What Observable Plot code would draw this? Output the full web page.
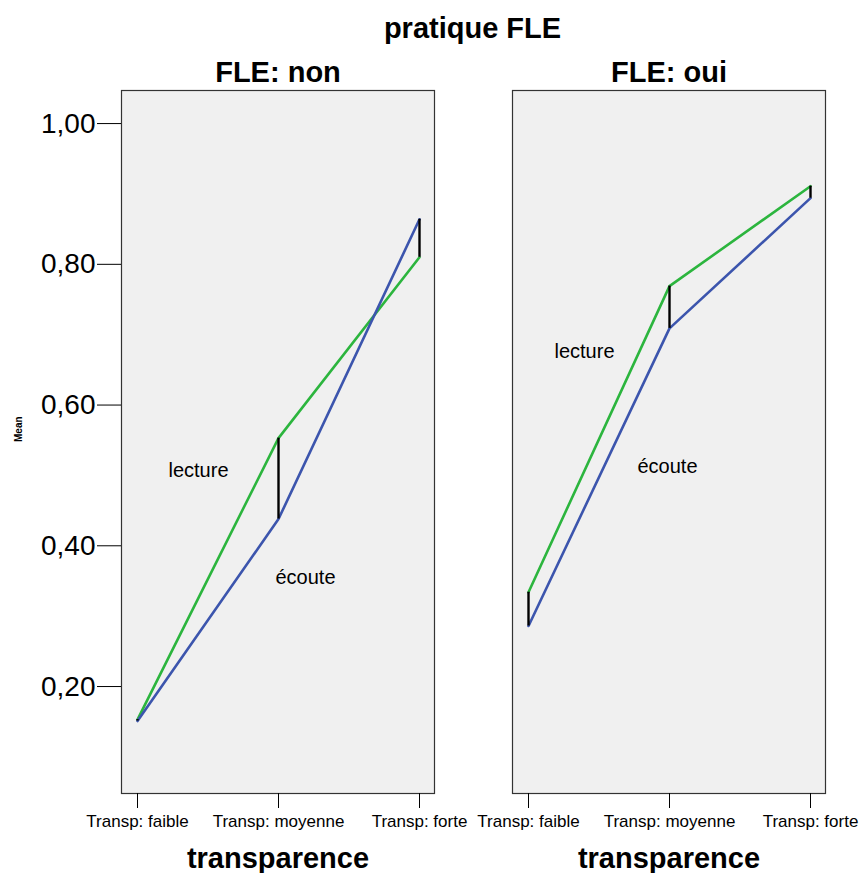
<!DOCTYPE html>
<html>
<head>
<meta charset="utf-8">
<script src="https://cdn.jsdelivr.net/npm/d3@7"></script>
<script src="https://cdn.jsdelivr.net/npm/@observablehq/plot@0.6"></script>
<style>
  body { margin: 0; background: #fff; font-family: "Liberation Sans", Arial, sans-serif; }
  #wrap { position: relative; width: 864px; height: 873px; }
  #title { position: absolute; left: 120px; width: 705px; top: 11px; text-align: center;
           font: bold 29px "Liberation Sans", Arial, sans-serif; color: #000; line-height: 34px; }
</style>
</head>
<body>
<div id="wrap"><div id="title">pratique FLE</div></div>
<script>
// Categories
const groups = ["FLE: non", "FLE: oui"];
const levels = ["Transp: faible", "Transp: moyenne", "Transp: forte"];
// Series values (means), one array per group and measure
const lectureNon = [0.153, 0.553, 0.810];
const ecouteNon  = [0.151, 0.438, 0.864];
const lectureOui = [0.334, 0.769, 0.911];
const ecouteOui  = [0.286, 0.709, 0.894];
// Y tick values
const yTicks = [0.2, 0.4, 0.6, 0.8, 1.0];
// Series label annotations: group, text, anchor level, value, horizontal nudge
const seriesLabels = [
  {group: "FLE: non", text: "lecture", level: "Transp: faible",  value: 0.507, dx: 61},
  {group: "FLE: non", text: "écoute",  level: "Transp: moyenne", value: 0.355, dx: 27},
  {group: "FLE: oui", text: "lecture", level: "Transp: faible",  value: 0.676, dx: 56},
  {group: "FLE: oui", text: "écoute",  level: "Transp: moyenne", value: 0.512, dx: -2}
];

const series = [
  {name: "lecture", group: "FLE: non", values: lectureNon},
  {name: "écoute",  group: "FLE: non", values: ecouteNon},
  {name: "lecture", group: "FLE: oui", values: lectureOui},
  {name: "écoute",  group: "FLE: oui", values: ecouteOui}
];
const rows = series.flatMap(s => s.values.map((v, i) => ({group: s.group, series: s.name, level: levels[i], value: v})));
const diffs = [
  ...levels.map((l, i) => ({group: "FLE: non", level: l, a: lectureNon[i], b: ecouteNon[i]})),
  ...levels.map((l, i) => ({group: "FLE: oui", level: l, a: lectureOui[i], b: ecouteOui[i]}))
];

const font = '"Liberation Sans", Arial, sans-serif';

const chart = Plot.plot({
  width: 864,
  height: 873,
  marginLeft: 120,
  marginRight: 39,
  marginTop: 90,
  marginBottom: 80,
  style: {fontFamily: font, background: "transparent", color: "#000"},
  fx: {domain: groups, paddingInner: 0.2, paddingOuter: 0, axis: null},
  x: {domain: levels, type: "point", padding: 0.105},
  y: {domain: [0.048, 1.047]},
  color: {domain: ["lecture", "écoute"], range: ["#2cb53e", "#3c55ad"]},
  marks: [
    Plot.frame({fill: "#f0f0f0", stroke: "#333", strokeWidth: 1.2}),
    Plot.axisY({ticks: yTicks, tickSize: 24, tickPadding: 2, fontSize: 28, label: null,
                tickFormat: d => d.toFixed(2).replace(".", ",")}),
    Plot.axisX({tickSize: 15, tickPadding: 6, fontSize: 17, label: null}),
    Plot.line(rows, {fx: "group", x: "level", y: "value", z: "series", stroke: "series", strokeWidth: 2.6}),
    Plot.ruleX(diffs, {fx: "group", x: "level", y1: "a", y2: "b", stroke: "#000", strokeWidth: 2.4}),
    ...seriesLabels.map(d => Plot.text([d], {fx: "group", x: "level", y: "value", dx: d.dx, text: "text", fontSize: 20})),
    Plot.text(groups, {fx: d => d, text: d => d, frameAnchor: "top", dy: -18, lineAnchor: "middle",
                       fontSize: 29, fontWeight: "bold"}),
    Plot.text(["transparence"], {text: d => d, frameAnchor: "bottom", dy: 65, lineAnchor: "middle",
                                 fontSize: 29, fontWeight: "bold"}),
    Plot.text([{group: "FLE: non", t: "Mean"}], {fx: "group", text: "t", frameAnchor: "left", dx: -103,
                                 rotate: -90, fontSize: 10, fontWeight: "bold"})
  ]
});
document.getElementById("wrap").prepend(chart);
chart.style.position = "absolute";
chart.style.left = "0";
chart.style.top = "0";
</script>
</body>
</html>
